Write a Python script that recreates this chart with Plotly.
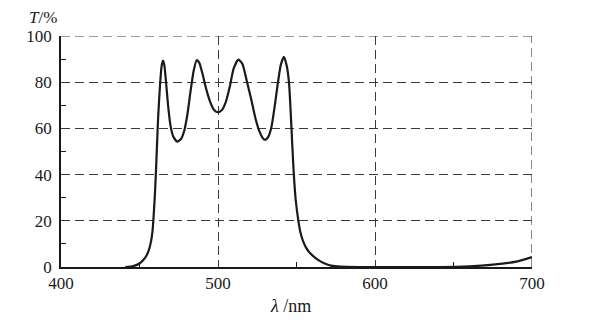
import plotly.graph_objects as go

wavelength = [441, 446, 450, 452.4, 454.5, 456, 457.3, 458.2, 458.8, 459.7, 460.4, 461.1, 461.9,
              463, 464, 464.9, 465.8, 466.9, 468.2, 469.8, 471.5, 474, 476.5, 478.5, 480.5,
              482.5, 484.5, 486.5, 488, 490, 492.5, 495, 497.5, 500, 502.5, 505, 507.5, 510,
              513, 515.5, 518, 521, 524, 526.5, 528.5, 530, 532, 534, 536, 538, 540, 542,
              543.8, 545.2, 546.3, 547.3, 548.3, 549.5, 551.2, 552.5, 554, 556, 558, 561,
              564, 568, 572, 578, 590, 640, 660, 675, 690, 700]
transmission = [0, 0.4, 1.5, 3, 5, 7.4, 11, 15, 20, 30, 40, 52, 65,
                78, 86.5, 89.3, 87.5, 80, 70, 61, 56.5, 54.3, 55.5, 59, 66,
                76, 85, 89.6, 88.5, 84, 77, 71.5, 68, 67, 68, 71.5, 78, 86,
                89.8, 88, 81.5, 73, 64, 58.5, 55.8, 55, 56.3, 60.5, 69, 79, 87.5, 91,
                87, 80, 67, 53, 40, 29, 20, 15, 11.5, 8.5, 6.5, 4.5,
                3, 1.5, 0.6, 0.15, 0, 0, 0.3, 1, 2.3, 4.3]

x_ticks = [400, 500, 600, 700]
y_ticks = [0, 20, 40, 60, 80, 100]

FONT = "Liberation Serif"
INK = "#1a1a1a"
GRID = "#3a3a3a"
DASH = "9px,5px"

fig = go.Figure()
fig.add_trace(go.Scatter(x=wavelength, y=transmission, mode="lines",
                         line=dict(color=INK, width=2.2, shape="spline", smoothing=0.6),
                         showlegend=False, hoverinfo="skip"))

axis_common = dict(showline=True, linecolor=INK, linewidth=1.6, ticks="",
                   showgrid=True, gridcolor=GRID, gridwidth=1, griddash=DASH,
                   zeroline=False, tickfont=dict(family=FONT, size=17, color=INK),
                   fixedrange=True)

fig.update_layout(
    width=591, height=325,
    margin=dict(l=61, r=59, t=36, b=58),
    paper_bgcolor="white", plot_bgcolor="white",
    font=dict(family=FONT, size=17, color=INK),
    xaxis=dict(range=[400, 700], tickvals=x_ticks, ticktext=[str(v) for v in x_ticks],
               minor=dict(tickvals=[450, 550, 650], ticks="inside", ticklen=5,
                          tickcolor=INK, showgrid=False),
               **axis_common),
    yaxis=dict(range=[0, 100], tickvals=y_ticks, ticktext=[str(v) for v in y_ticks],
               minor=dict(tickvals=[10, 30, 50, 70, 90], ticks="inside", ticklen=5,
                          tickcolor=INK, showgrid=False),
               ticklabelstandoff=4,
               **axis_common),
    shapes=[
        dict(type="line", xref="paper", yref="y", x0=0, x1=1, y0=100, y1=100,
             line=dict(color=GRID, width=1.2, dash=DASH), layer="below"),
        dict(type="line", xref="x", yref="paper", x0=700, x1=700, y0=0, y1=1,
             line=dict(color=GRID, width=1.2, dash=DASH), layer="below"),
    ],
    annotations=[
        dict(text="<i>T</i>/%", xref="paper", yref="paper", x=-0.004, y=1.0, yshift=19,
             xanchor="right", yanchor="middle", showarrow=False,
             font=dict(family=FONT, size=17, color=INK)),
        dict(text="<i>λ</i> /nm", xref="paper", yref="paper", x=(290 - 61) / 471, y=0, yshift=-39,
             xanchor="center", yanchor="middle", showarrow=False,
             font=dict(family=FONT, size=18, color=INK)),
    ],
)

fig.write_html("out.html")
